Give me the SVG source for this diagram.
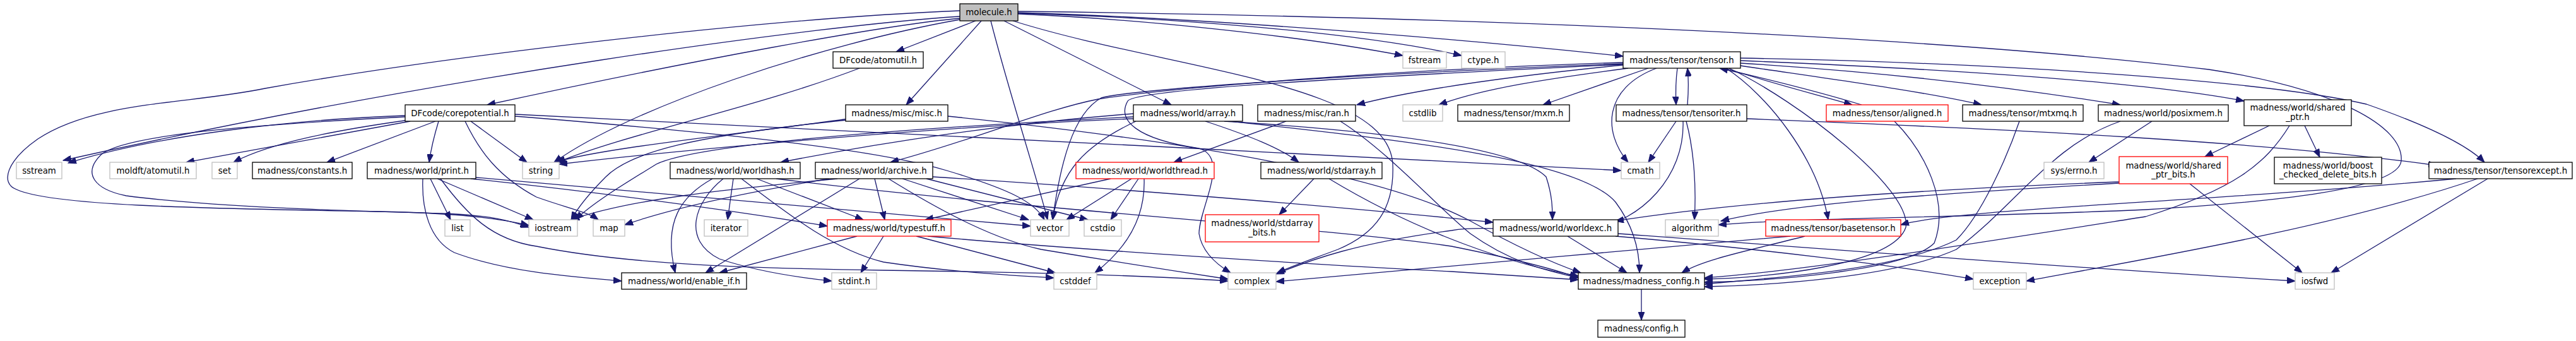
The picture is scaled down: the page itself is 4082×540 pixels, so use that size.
<svg xmlns="http://www.w3.org/2000/svg" width="4082" height="540" viewBox="0 0 4082 540">
<defs>
<style>
.nd rect{fill:#fff;stroke:#000;stroke-width:1.3}
.nd.e rect{stroke:#bfbfbf}
.nd.r rect{stroke:#f00}
.nd.m rect{fill:#bfbfbf}
.nd text{font-family:"DejaVu Sans","Liberation Sans",sans-serif;font-size:13.33px;text-anchor:middle;fill:#000}
#edges path{fill:none;stroke:#191970;stroke-width:1.3;marker-end:url(#ah)}
</style>
<marker id="ah" markerWidth="14" markerHeight="10" refX="13" refY="5" orient="auto" markerUnits="userSpaceOnUse"><path d="M0,0 L13,5 L0,10 z" fill="#191970" stroke="#191970" stroke-width="1"/></marker>
</defs>
<rect width="4082" height="540" fill="#fff"/>
<g id="edges">
<path d="M1546,33 L1420,82"/>
<path d="M1521,29 C1400,40 1100,95 772,166"/>
<path d="M1555,33 L1436,166"/>
<path d="M1591,33 L1856,166"/>
<path d="M1570,33 C1600,150 1640,270 1660,348"/>
<path d="M1613,22 C1800,30 2050,55 2223,88"/>
<path d="M1613,21 C1850,28 2150,50 2316,88"/>
<path d="M1613,20 C1900,28 2300,60 2572,89"/>
<path d="M1521,26 C1300,40 700,120 100,254"/>
<path d="M1521,17 C1200,30 700,90 420,140 C300,165 150,160 60,220 C10,255 0,290 26,300 C80,325 300,330 600,335 C720,337 790,345 838,357"/>
<path d="M1521,31 C1300,70 1000,170 878,257"/>
<path d="M1613,18 C2200,25 3000,50 3500,110 C3700,140 3810,200 3805,255 C3800,300 3600,320 3400,332 C3100,345 2850,345 2723,356"/>
<path d="M1605,33 C1850,110 2200,130 2207,260 C2210,330 2180,370 2120,395 C2080,410 2050,420 2024,432"/>
<path d="M642,183 C450,190 250,215 108,258"/>
<path d="M650,192 L295,257"/>
<path d="M648,190 C540,205 430,225 370,257"/>
<path d="M690,192 L518,257"/>
<path d="M695,192 C688,215 683,235 680,257"/>
<path d="M746,192 L835,257"/>
<path d="M737,192 C760,240 790,280 850,312 C900,330 930,335 948,348"/>
<path d="M642,185 C450,195 200,210 160,245 C130,275 150,300 200,310 C350,330 600,335 700,338 C780,341 810,350 838,360"/>
<path d="M816,181 C1300,205 2000,240 2569,270"/>
<path d="M816,184 C1200,215 1400,240 1500,270 C1600,300 1640,320 1655,348"/>
<path d="M1362,108 C1200,170 1000,210 883,257"/>
<path d="M1345,188 C1150,215 950,235 880,257"/>
<path d="M1342,190 C1100,215 1000,240 960,280 C935,305 915,330 905,348"/>
<path d="M1502,184 C1900,225 2200,280 2330,350 C2420,400 2470,420 2505,432"/>
<path d="M1910,192 C1980,215 2030,235 2058,257"/>
<path d="M1800,192 C1720,230 1680,270 1668,348"/>
<path d="M1796,180 C1600,195 1400,225 1237,257"/>
<path d="M1796,185 C1400,205 1100,230 1040,260 C1000,285 940,320 912,348"/>
<path d="M1796,188 C1500,200 1100,235 886,260"/>
<path d="M1940,192 C2150,205 2400,230 2450,280 C2460,310 2460,330 2460,348"/>
<path d="M1950,192 C2200,220 2500,250 2560,320 C2590,360 2598,400 2598,432"/>
<path d="M2572,103 C2400,120 2250,140 2150,166"/>
<path d="M2580,108 C2450,125 2350,140 2280,166"/>
<path d="M2612,108 L2445,166"/>
<path d="M2658,108 C2655,130 2655,145 2656,166"/>
<path d="M2674,166 C2676,140 2676,125 2674,108"/>
<path d="M2625,108 C2540,140 2540,210 2580,257"/>
<path d="M2572,99 C2200,110 1850,140 1740,157 C1650,175 1550,220 1411,257"/>
<path d="M2572,101 C2200,115 1800,140 1745,155 C1700,180 1680,260 1668,348"/>
<path d="M2572,102 C2200,120 1800,140 1787,160 C1770,190 1800,220 1900,235 C1950,250 1900,330 1900,370 C1905,400 1930,420 1950,432"/>
<path d="M2735,108 C2800,130 2880,150 2935,166"/>
<path d="M2950,166 C2880,145 2800,125 2725,108"/>
<path d="M2758,104 C2900,125 3050,145 3140,166"/>
<path d="M2758,100 C3000,115 3200,140 3360,166"/>
<path d="M2758,96 C3100,110 3400,130 3556,160"/>
<path d="M2758,92 C3200,100 3600,130 3750,165 C3850,200 3910,230 3937,257"/>
<path d="M2735,108 C2800,150 2880,250 2897,348"/>
<path d="M2740,108 C2850,160 3030,300 3020,360 C3000,420 2800,440 2701,442"/>
<path d="M2656,192 L2612,257"/>
<path d="M2672,192 C2685,240 2688,300 2685,348"/>
<path d="M2667,192 C2670,280 2600,350 2524,362 C2450,372 2360,355 2300,365 C2150,385 2080,410 2022,434"/>
<path d="M2768,188 C3200,205 3600,225 3861,262"/>
<path d="M3002,192 C3050,240 3090,320 3065,385 C3020,430 2800,445 2701,447"/>
<path d="M3200,192 C3180,250 3140,340 3100,380 C3000,430 2800,440 2701,450"/>
<path d="M3410,192 L3310,257"/>
<path d="M3360,192 C3250,230 3200,320 3100,395 C3000,440 2800,452 2701,454"/>
<path d="M3596,199 L3494,248"/>
<path d="M3652,199 L3676,249"/>
<path d="M3628,199 C3590,260 3540,300 3400,343 C3100,390 2850,430 2701,440"/>
<path d="M3358,290 C3100,305 2850,320 2727,350"/>
<path d="M3358,288 C3050,300 2750,320 2560,350"/>
<path d="M3470,291 L3648,432"/>
<path d="M3942,283 L3694,432"/>
<path d="M3926,283 C3700,360 3400,410 3211,445"/>
<path d="M3892,283 C3500,320 3100,330 3012,356"/>
<path d="M2038,192 L1860,257"/>
<path d="M2124,192 C2200,240 2280,330 2330,370 C2400,420 2460,430 2501,440"/>
<path d="M2082,283 L2027,340"/>
<path d="M2106,283 C2250,370 2400,420 2501,437"/>
<path d="M1760,283 L1466,348"/>
<path d="M1793,283 L1690,348"/>
<path d="M1804,283 L1760,348"/>
<path d="M1813,283 C1815,340 1790,390 1735,432"/>
<path d="M1386,283 L1402,348"/>
<path d="M1430,283 L1630,348"/>
<path d="M1468,283 L1724,348"/>
<path d="M1478,280 C1800,300 2150,330 2366,352"/>
<path d="M1408,283 C1500,340 1580,380 1650,395 C1800,420 1900,435 1946,442"/>
<path d="M1327,283 C1150,300 1000,315 905,348"/>
<path d="M1314,283 C1150,310 1050,335 990,356"/>
<path d="M1362,283 L1118,432"/>
<path d="M1129,283 C1080,310 1050,350 1070,432"/>
<path d="M1146,283 C1100,320 1080,380 1140,410 C1200,430 1270,440 1318,445"/>
<path d="M1162,283 L1153,348"/>
<path d="M1175,283 C1250,340 1320,395 1400,415 C1500,430 1600,436 1670,440"/>
<path d="M1199,283 L1368,348"/>
<path d="M1230,283 C1600,330 2100,360 2300,390 C2400,410 2460,425 2501,440"/>
<path d="M682,283 L714,348"/>
<path d="M693,283 L845,348"/>
<path d="M670,283 C668,330 680,380 720,400 C800,430 900,438 985,445"/>
<path d="M746,283 C1000,310 1200,340 1311,358"/>
<path d="M754,281 C1100,310 1400,340 1633,358"/>
<path d="M698,283 C740,340 780,380 850,390 C1000,420 1200,425 1400,428 C1700,432 1850,438 1946,445"/>
<path d="M1358,374 L1140,432"/>
<path d="M1400,374 L1364,432"/>
<path d="M1452,374 L1672,432"/>
<path d="M1470,374 C1700,395 2100,420 2300,430 C2400,436 2460,440 2501,443"/>
<path d="M2560,374 C2800,395 3000,420 3127,442"/>
<path d="M2484,374 L2578,432"/>
<path d="M2564,370 C2900,395 3300,425 3637,445"/>
<path d="M2860,374 C2780,395 2700,410 2665,432"/>
<path d="M2837,374 C2600,395 2200,430 2022,446"/>
<path d="M2601,458 L2601,507"/>
</g>
<g id="n_molecule" class="nd m"><rect x="1521" y="6" width="92" height="27"/><text x="1567" y="24">molecule.h</text></g>
<g id="n_dfatom" class="nd"><rect x="1320" y="82" width="143" height="26"/><text x="1391.5" y="99.6">DFcode/atomutil.h</text></g>
<g id="n_fstream" class="nd e"><rect x="2223" y="82" width="69" height="26"/><text x="2257.5" y="99.6">fstream</text></g>
<g id="n_ctype" class="nd e"><rect x="2316" y="82" width="69" height="26"/><text x="2350.5" y="99.6">ctype.h</text></g>
<g id="n_tensor" class="nd"><rect x="2572" y="82" width="186" height="26"/><text x="2665" y="99.6">madness/tensor/tensor.h</text></g>
<g id="n_corepot" class="nd"><rect x="642" y="166" width="174" height="26"/><text x="729" y="183.6">DFcode/corepotential.h</text></g>
<g id="n_misc" class="nd"><rect x="1340" y="166" width="162" height="26"/><text x="1421" y="183.6">madness/misc/misc.h</text></g>
<g id="n_array" class="nd"><rect x="1796" y="166" width="173" height="26"/><text x="1882.5" y="183.6">madness/world/array.h</text></g>
<g id="n_ran" class="nd"><rect x="1993" y="166" width="155" height="26"/><text x="2070.5" y="183.6">madness/misc/ran.h</text></g>
<g id="n_cstdlib" class="nd e"><rect x="2223" y="166" width="63" height="26"/><text x="2254.5" y="183.6">cstdlib</text></g>
<g id="n_mxm" class="nd"><rect x="2310" y="166" width="177" height="26"/><text x="2398.5" y="183.6">madness/tensor/mxm.h</text></g>
<g id="n_tensoriter" class="nd"><rect x="2561" y="166" width="207" height="26"/><text x="2664.5" y="183.6">madness/tensor/tensoriter.h</text></g>
<g id="n_aligned" class="nd r"><rect x="2894" y="166" width="193" height="26"/><text x="2990.5" y="183.6">madness/tensor/aligned.h</text></g>
<g id="n_mtxmq" class="nd"><rect x="3110" y="166" width="191" height="26"/><text x="3205.5" y="183.6">madness/tensor/mtxmq.h</text></g>
<g id="n_posixmem" class="nd"><rect x="3325" y="166" width="206" height="26"/><text x="3428" y="183.6">madness/world/posixmem.h</text></g>
<g id="n_sharedptr" class="nd"><rect x="3556" y="158" width="170" height="41"/><text x="3641" y="175">madness/world/shared</text><text x="3641" y="190">_ptr.h</text></g>
<g id="n_sstream" class="nd e"><rect x="26" y="257" width="72" height="26"/><text x="62" y="274.6">sstream</text></g>
<g id="n_moldft" class="nd e"><rect x="174" y="257" width="137" height="26"/><text x="242.5" y="274.6">moldft/atomutil.h</text></g>
<g id="n_set" class="nd e"><rect x="336" y="257" width="40" height="26"/><text x="356" y="274.6">set</text></g>
<g id="n_constants" class="nd"><rect x="400" y="257" width="158" height="26"/><text x="479" y="274.6">madness/constants.h</text></g>
<g id="n_print" class="nd"><rect x="582" y="257" width="172" height="26"/><text x="668" y="274.6">madness/world/print.h</text></g>
<g id="n_string" class="nd e"><rect x="828" y="257" width="58" height="26"/><text x="857" y="274.6">string</text></g>
<g id="n_worldhash" class="nd"><rect x="1062" y="257" width="206" height="26"/><text x="1165" y="274.6">madness/world/worldhash.h</text></g>
<g id="n_archive" class="nd"><rect x="1292" y="257" width="186" height="26"/><text x="1385" y="274.6">madness/world/archive.h</text></g>
<g id="n_worldthread" class="nd r"><rect x="1705" y="257" width="219" height="26"/><text x="1814.5" y="274.6">madness/world/worldthread.h</text></g>
<g id="n_stdarray" class="nd"><rect x="1998" y="257" width="192" height="26"/><text x="2094" y="274.6">madness/world/stdarray.h</text></g>
<g id="n_cmath" class="nd e"><rect x="2569" y="257" width="61" height="26"/><text x="2599.5" y="274.6">cmath</text></g>
<g id="n_errno" class="nd e"><rect x="3239" y="257" width="95" height="26"/><text x="3286.5" y="274.6">sys/errno.h</text></g>
<g id="n_spb" class="nd r"><rect x="3358" y="248" width="172" height="43"/><text x="3444" y="266.5">madness/world/shared</text><text x="3444" y="281">_ptr_bits.h</text></g>
<g id="n_boost" class="nd"><rect x="3604" y="249" width="170" height="42"/><text x="3689" y="266.5">madness/world/boost</text><text x="3689" y="281">_checked_delete_bits.h</text></g>
<g id="n_tensorexcept" class="nd"><rect x="3849" y="257" width="227" height="26"/><text x="3962.5" y="274.6">madness/tensor/tensorexcept.h</text></g>
<g id="n_list" class="nd e"><rect x="705" y="348" width="40" height="26"/><text x="725" y="365.6">list</text></g>
<g id="n_iostream" class="nd e"><rect x="838" y="348" width="77" height="26"/><text x="876.5" y="365.6">iostream</text></g>
<g id="n_map" class="nd e"><rect x="940" y="348" width="50" height="26"/><text x="965" y="365.6">map</text></g>
<g id="n_iterator" class="nd e"><rect x="1116" y="348" width="69" height="26"/><text x="1150.5" y="365.6">iterator</text></g>
<g id="n_typestuff" class="nd r"><rect x="1311" y="348" width="196" height="26"/><text x="1409" y="365.6">madness/world/typestuff.h</text></g>
<g id="n_vector" class="nd e"><rect x="1633" y="348" width="61" height="26"/><text x="1663.5" y="365.6">vector</text></g>
<g id="n_cstdio" class="nd e"><rect x="1718" y="348" width="59" height="26"/><text x="1747.5" y="365.6">cstdio</text></g>
<g id="n_sab" class="nd r"><rect x="1910" y="340" width="180" height="43"/><text x="2000" y="357.5">madness/world/stdarray</text><text x="2000" y="372.5">_bits.h</text></g>
<g id="n_worldexc" class="nd"><rect x="2366" y="348" width="198" height="26"/><text x="2465" y="365.6">madness/world/worldexc.h</text></g>
<g id="n_algorithm" class="nd e"><rect x="2639" y="348" width="84" height="26"/><text x="2681" y="365.6">algorithm</text></g>
<g id="n_basetensor" class="nd r"><rect x="2798" y="348" width="214" height="26"/><text x="2905" y="365.6">madness/tensor/basetensor.h</text></g>
<g id="n_enableif" class="nd"><rect x="985" y="432" width="198" height="26"/><text x="1084" y="449.6">madness/world/enable_if.h</text></g>
<g id="n_stdint" class="nd e"><rect x="1318" y="432" width="71" height="26"/><text x="1353.5" y="449.6">stdint.h</text></g>
<g id="n_cstddef" class="nd e"><rect x="1670" y="432" width="68" height="26"/><text x="1704" y="449.6">cstddef</text></g>
<g id="n_complex" class="nd e"><rect x="1946" y="432" width="76" height="26"/><text x="1984" y="449.6">complex</text></g>
<g id="n_mconfig" class="nd"><rect x="2501" y="432" width="200" height="26"/><text x="2601" y="449.6">madness/madness_config.h</text></g>
<g id="n_exception" class="nd e"><rect x="3127" y="432" width="84" height="26"/><text x="3169" y="449.6">exception</text></g>
<g id="n_iosfwd" class="nd e"><rect x="3637" y="432" width="62" height="26"/><text x="3668" y="449.6">iosfwd</text></g>
<g id="n_config" class="nd"><rect x="2532" y="507" width="138" height="27"/><text x="2601" y="525">madness/config.h</text></g>
</svg>
